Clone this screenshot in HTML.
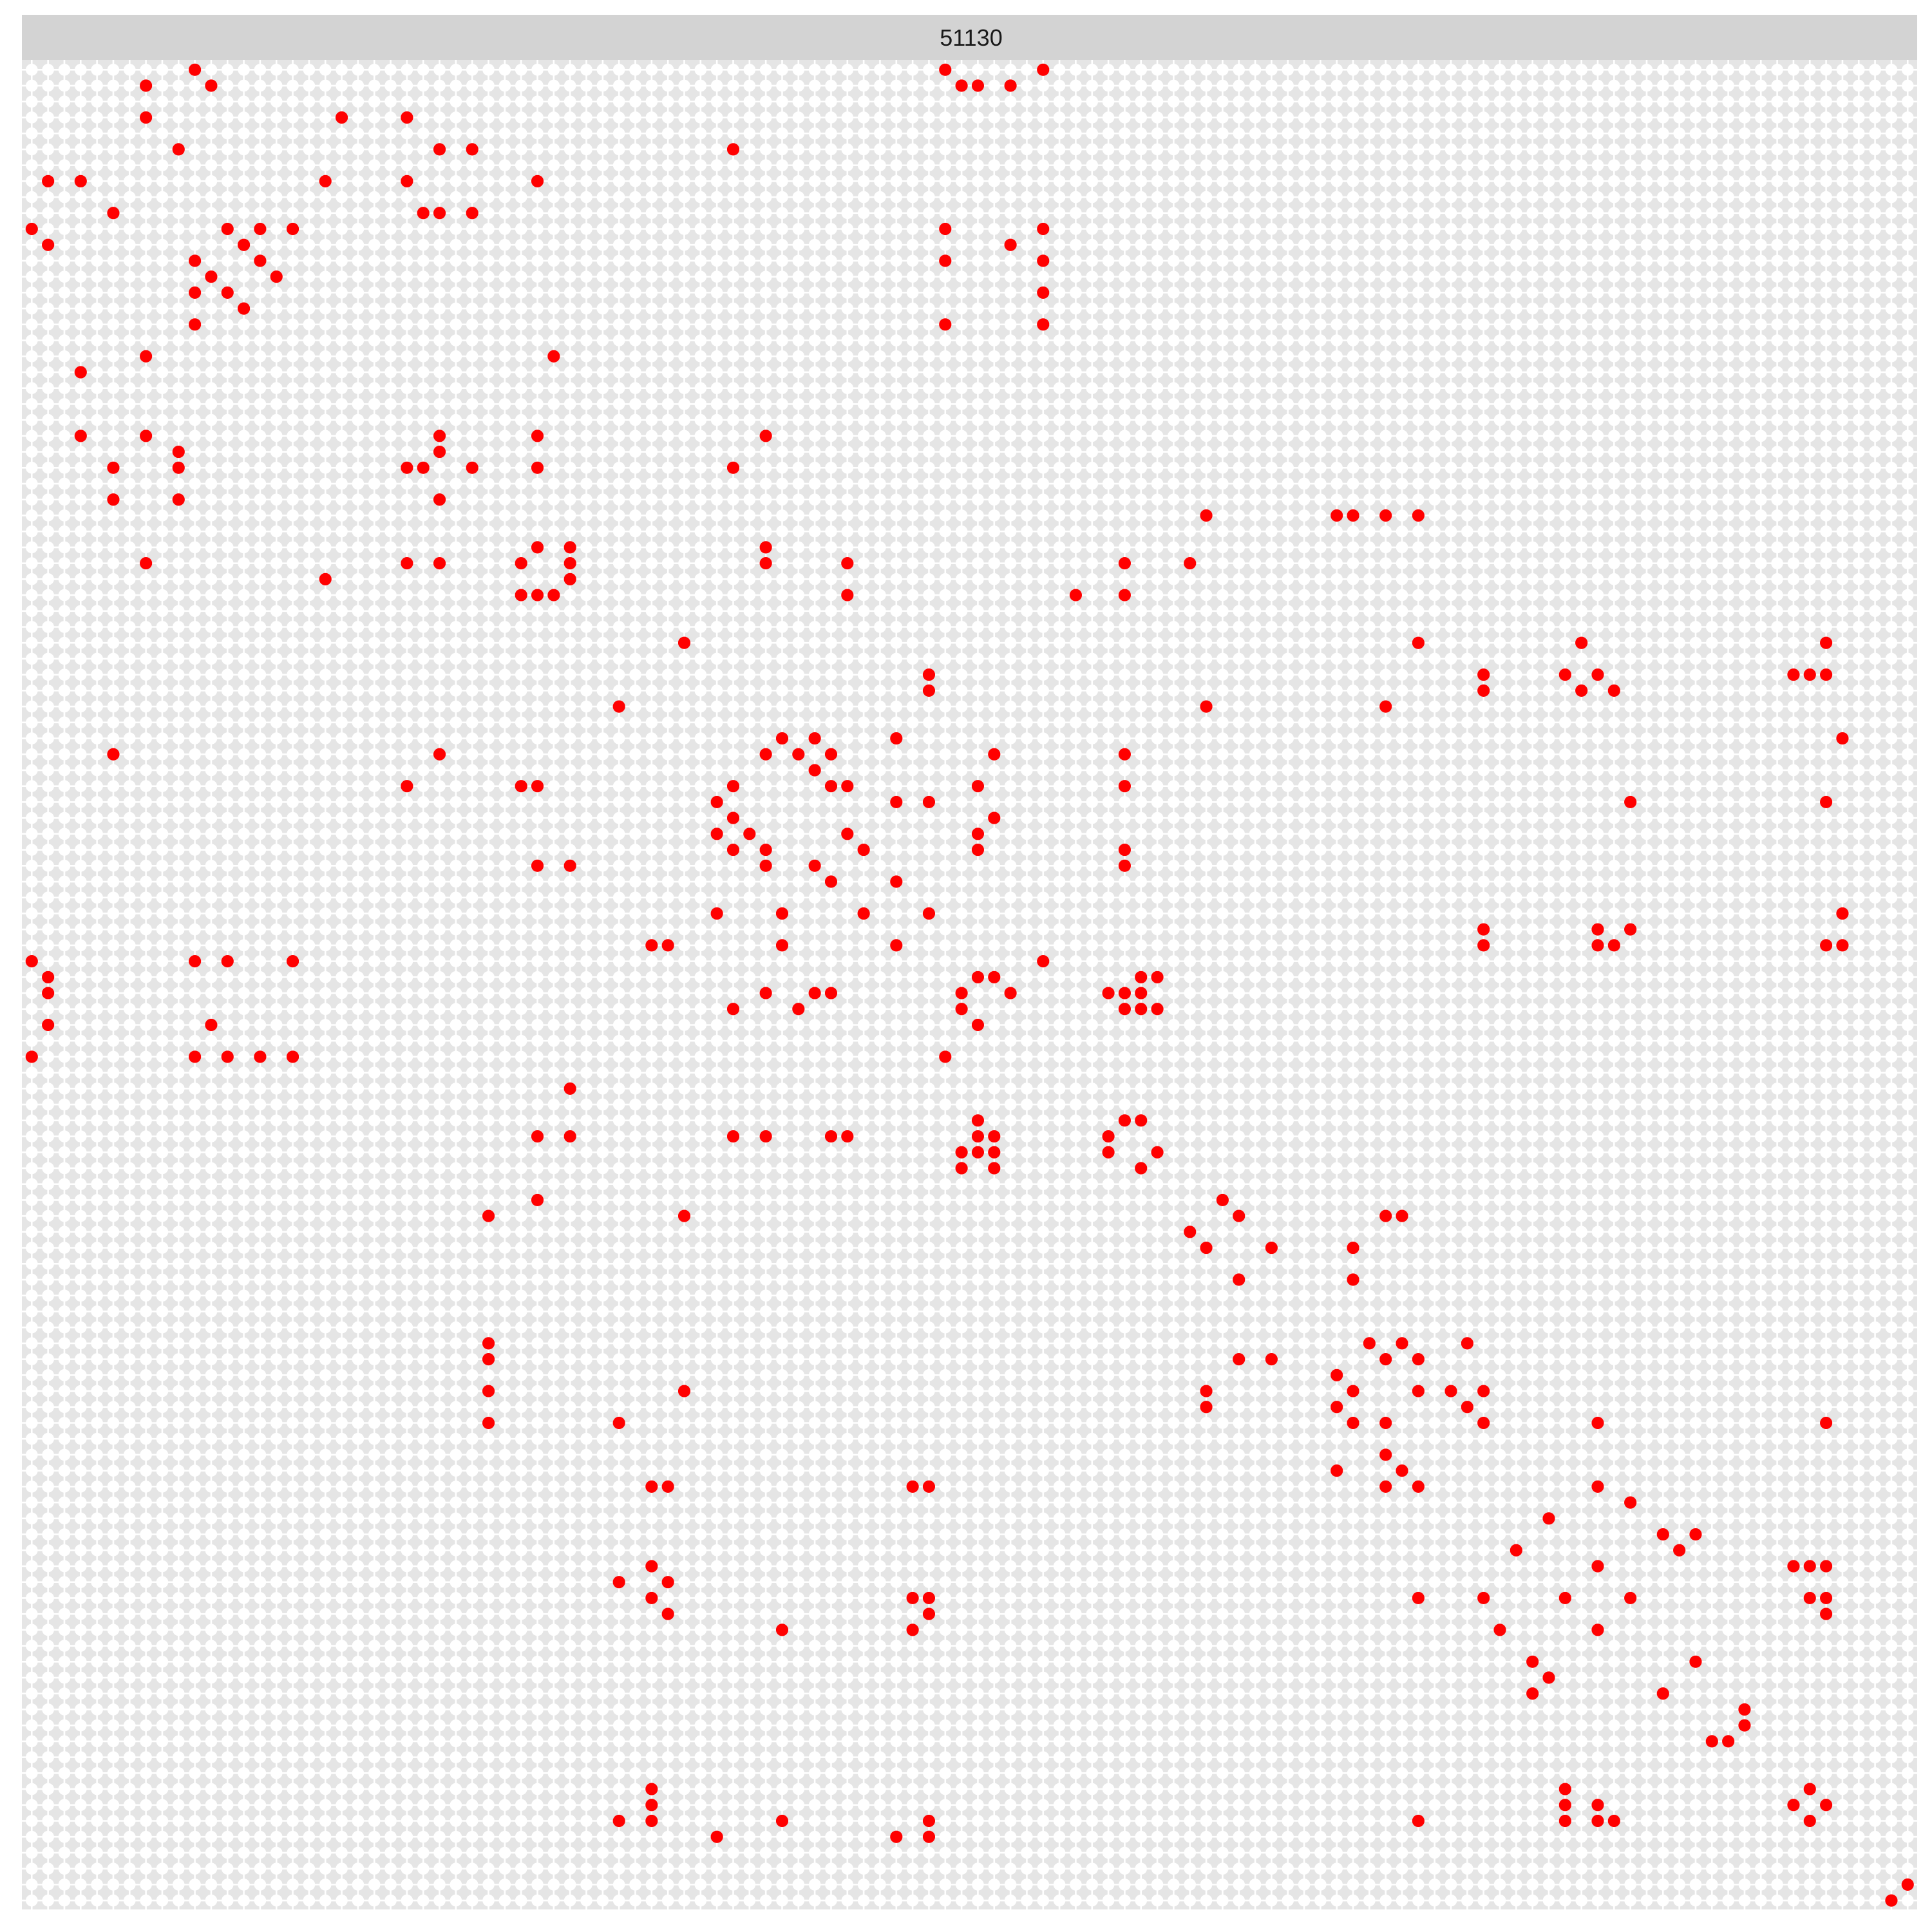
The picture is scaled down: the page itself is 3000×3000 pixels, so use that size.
<!DOCTYPE html>
<html>
<head>
<meta charset="utf-8">
<style>
  html,body{margin:0;padding:0;background:#fff;}
  svg{display:block;}
  text{font-family:"Liberation Sans",sans-serif;}
</style>
</head>
<body>
<svg id="chart" width="3000" height="3000" viewBox="0 0 3000 3000" xmlns="http://www.w3.org/2000/svg">
  <rect x="0" y="0" width="3000" height="3000" fill="#ffffff"/>
  <rect x="34" y="23" width="2943" height="70" fill="#D3D3D3"/>
  <text x="1508" y="71" font-size="36" fill="#1A1A1A" text-anchor="middle">51130</text>
  <rect x="34" y="93" width="2943" height="2872" fill="#E5E5E5"/>
  <g id="grid"></g>
  <g id="bg"></g>
  <g id="marks"></g>
</svg>
<script>
// grid size
const nCols = 116;
const nRows = 116;
// row index (from top) -> list of columns with a red point
const linkRows = [0,1,3,5,7,9,10,11,12,13,14,15,16,18,19,23,24,25,27,28,30,31,32,33,36,38,39,40,42,43,44,45,46,47,48,49,50,51,53,54,55,56,57,58,59,60,62,64,66,67,68,69,71,72,73,74,76,80,81,82,83,84,85,87,88,89,90,91,92,93,94,95,96,97,98,100,101,102,103,104,105,108,109,110,111,114,115];
const linkCols = [
 [10,56,62],[7,11,57,58,60],[7,19,23],[9,25,27,43],[1,3,18,23,31],[5,24,25,27],
 [0,12,14,16,56,62],[1,13,60],[10,14,56,62],[11,15],[10,12,62],[13],[10,56,62],
 [7,32],[3],[3,7,25,31,45],[9,25],[5,9,23,24,27,31,43],[5,9,25],[72,80,81,83,85],
 [31,33,45],[7,23,25,30,33,45,50,67,71],[18,33],[30,31,32,50,64,67],
 [40,85,95,110],[55,89,94,96,108,109,110],[55,89,95,97],[36,72,83],
 [46,48,53,111],[5,25,45,47,49,59,67],[48],[23,30,31,43,49,50,58,67],
 [42,53,55,98,110],[43,59],[42,44,50,58],[43,45,51,58,67],[31,33,45,48,67],
 [49,53],[42,46,51,55,111],[89,96,98],[38,39,46,53,89,96,97,110,111],
 [0,10,12,16,62],[1,58,59,68,69],[1,45,48,49,57,60,66,67,68],[43,47,57,67,68,69],
 [1,11,58],[0,10,12,14,16,56],[33],[58,67,68],[31,33,43,45,49,50,58,59,66],
 [57,58,59,66,69],[57,59,68],[31,73],[28,40,74,83,84],[71],[72,76,81],[74,81],
 [28,82,84,88],[28,74,76,83,85],[80],[28,40,72,81,85,87,89],[72,80,88],
 [28,36,81,83,89,96,110],[83],[80,84],[38,39,54,55,83,85,96],[98],[93],[100,102],
 [91,101],[38,96,108,109,110],[36,39],[38,54,55,85,89,94,98,109,110],[39,55,110],
 [46,54,90,96],[92,102],[93],[92,100],[105],[105],[103,104],[38,94,109],
 [38,94,96,108,110],[36,38,46,55,85,94,96,97,109],[42,53,55],[115],[114]
];

const NS = "http://www.w3.org/2000/svg";
const x0 = 49.3, dx = 25.33, y0 = 108.3, dy = 24.72;
function xScale(c){ return x0 + c*dx; }
function yScale(r){ return y0 + r*dy; }

const grid = document.getElementById('grid');
for (let c = 0; c < nCols; c++) {
  const l = document.createElementNS(NS,'line');
  l.setAttribute('x1', xScale(c)); l.setAttribute('x2', xScale(c));
  l.setAttribute('y1', 93); l.setAttribute('y2', 2965);
  l.setAttribute('stroke', '#ffffff'); l.setAttribute('stroke-width', '2.6');
  
  
  grid.appendChild(l);
}
for (let r = 0; r < nRows; r++) {
  const l = document.createElementNS(NS,'line');
  l.setAttribute('x1', 34); l.setAttribute('x2', 2977);
  l.setAttribute('y1', yScale(r)); l.setAttribute('y2', yScale(r));
  l.setAttribute('stroke', '#ffffff'); l.setAttribute('stroke-width', '2.6');
  
  
  grid.appendChild(l);
}

const bg = document.getElementById('bg');
let bgPath = '';
const rr = 9.3;
for (let r = 0; r < nRows; r++) {
  for (let c = 0; c < nCols; c++) {
    const cx = xScale(c), cy = yScale(r);
    bgPath += 'M' + (cx - rr).toFixed(2) + ' ' + cy.toFixed(2) + 'a' + rr + ' ' + rr + ' 0 1 0 ' + (2*rr) + ' 0a' + rr + ' ' + rr + ' 0 1 0 ' + (-2*rr) + ' 0';
  }
}
const bgP = document.createElementNS(NS,'path');
bgP.setAttribute('d', bgPath);
bgP.setAttribute('fill', '#ffffff');


bg.appendChild(bgP);

const marks = document.getElementById('marks');
for (let i = 0; i < linkRows.length; i++) {
  const r = linkRows[i];
  const cols = linkCols[i];
  for (let j = 0; j < cols.length; j++) {
    const c = cols[j];
    const dot = document.createElementNS(NS,'circle');
    dot.setAttribute('cx', xScale(c));
    dot.setAttribute('cy', yScale(r));
    dot.setAttribute('r', 9.6);
    dot.setAttribute('fill', '#FF0000');
    
    
    marks.appendChild(dot);
  }
}
</script>
</body>
</html>
